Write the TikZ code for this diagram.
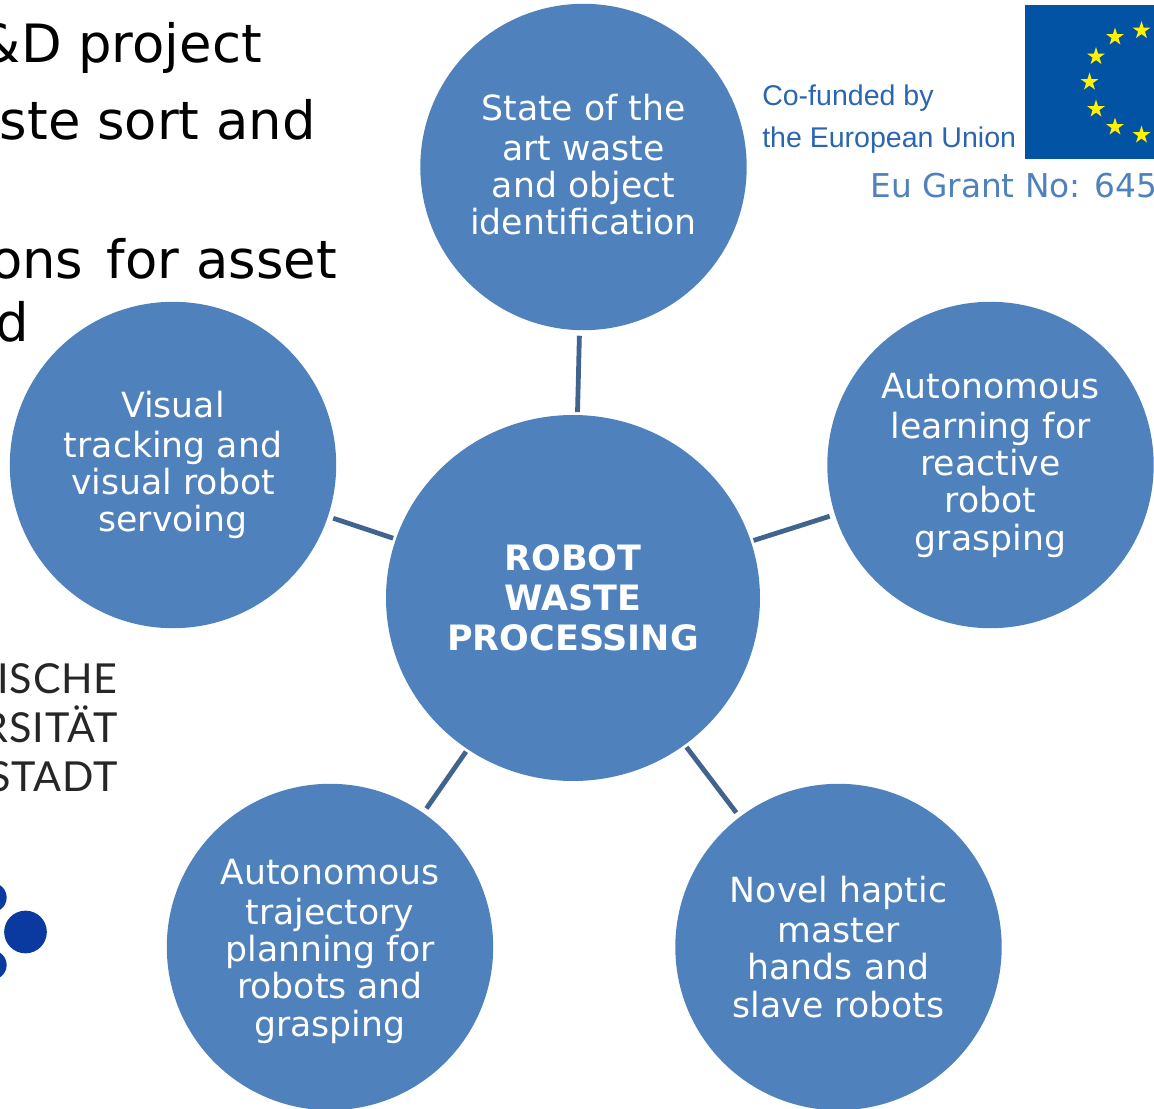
\documentclass[tikz,border=0pt]{standalone}
\usepackage{fontspec}
\setmainfont{DejaVu Sans}
\newfontfamily\fundfont{Liberation Sans}
\newfontfamily\unifont[LetterSpace=2]{Lato}
\usetikzlibrary{shapes.geometric}
\definecolor{discblue}{HTML}{4F81BD}
\definecolor{spokeblue}{HTML}{41648F}
\definecolor{flagblue}{HTML}{0353A4}
\definecolor{fundblue}{HTML}{2A66B0}
\definecolor{dotblue}{HTML}{0A3A9F}
\tikzset{
    disc node/.style={circle,fill=discblue,text=white,inner sep=0,align=center,minimum size=244.8pt,font=\fontsize{26}{28}\selectfont},
    hub node/.style={ellipse,fill=discblue,text=white,inner sep=0,align=center,minimum width=280.5pt,minimum height=274.5pt,font=\fontsize{26.2}{30}\selectfont\bfseries},
    spoke/.style={spokeblue,line width=3.6pt,shorten <=4pt,shorten >=2pt},
    slide node/.style={anchor=base east,inner sep=0,font=\fontsize{39.6}{39.6}\selectfont},
    uni node/.style={anchor=base east,inner sep=0,text=black!85,font=\fontsize{31}{31}\selectfont\unifont},
    fund node/.style={anchor=base west,inner sep=0,text=fundblue,font=\fontsize{21.4}{21.4}\selectfont\fundfont},
    star node/.style={star,star points=5,star point ratio=2.618,fill=yellow,inner sep=0,minimum size=14pt},
    dot node/.style={circle,fill=dotblue,inner sep=0}
    }

\begin{document}
\begin{tikzpicture}[x=0.75pt,y=-0.75pt]
    \useasboundingbox (0,0) rectangle (1154,1109);
    \clip (0,0) rectangle (1154,1109);
    % cut off slide text
    \node(line1)[slide node] at (262,63){\&D project};
    \node(line2)[slide node] at (316,140){ste sort and};
    \node(line3)[slide node] at (337,279){ons\hspace{5pt} for asset};
    \node(line4)[slide node] at (29,342){d};
    % logos
    \node(uni1)[uni node] at (118,693){ISCHE};
    \node(uni2)[uni node] at (118,742){RSITÄT};
    \node(uni3)[uni node] at (118,791){STADT};
    \node(dot1)[dot node,minimum size=32pt] at (25.5,932){};
    \node(dot2)[dot node,minimum size=22pt] at (-8,897.5){};
    \node(dot3)[dot node,minimum size=22pt] at (-8,965){};
    \node(flag)[fill=flagblue,anchor=north west,inner sep=0,minimum width=140pt,minimum height=115pt] at (1025,5){};
    \foreach \name/\x/\y in {a/1141.5/30.5,b/1115/37,c/1096/56.5,d/1089.5/82,e/1096/109,f/1115/127,g/1141.5/135}
        \node(star\name)[star node] at (\x,\y){};
    \node(fund1)[fund node] at (762,106){Co-funded by};
    \node(fund2)[fund node] at (762,148){the European Union};
    \node(grant)[anchor=base west,inner sep=0,text=discblue,font=\fontsize{24.6}{24.6}\selectfont] at (870,198){Eu Grant No: 645};
    % discs
    \node(hub)[hub node] at (573,598){ROBOT\\WASTE\\PROCESSING};
    \node(top)[disc node] at (583.5,167){State of the\\[2pt]art waste\\and object\\identification\rule[-4pt]{0pt}{0pt}};
    \node(right)[disc node] at (990.5,465){Autonomous\\[2pt]learning for\\reactive\\robot\\grasping};
    \node(lowright)[disc node] at (838.5,947){Novel haptic\\[2pt]master\\hands and\\slave robots};
    \node(lowleft)[disc node] at (330,947){\rule{0pt}{25pt}Autonomous\\[2pt]trajectory\\planning for\\robots and\\grasping};
    \node(left)[disc node] at (173,465){Visual\\[2pt]tracking and\\visual robot\\servoing};
    \foreach \name in {top,right,lowright,lowleft,left}
        \draw[spoke] (\name) -- (hub);
\end{tikzpicture}
\end{document}
